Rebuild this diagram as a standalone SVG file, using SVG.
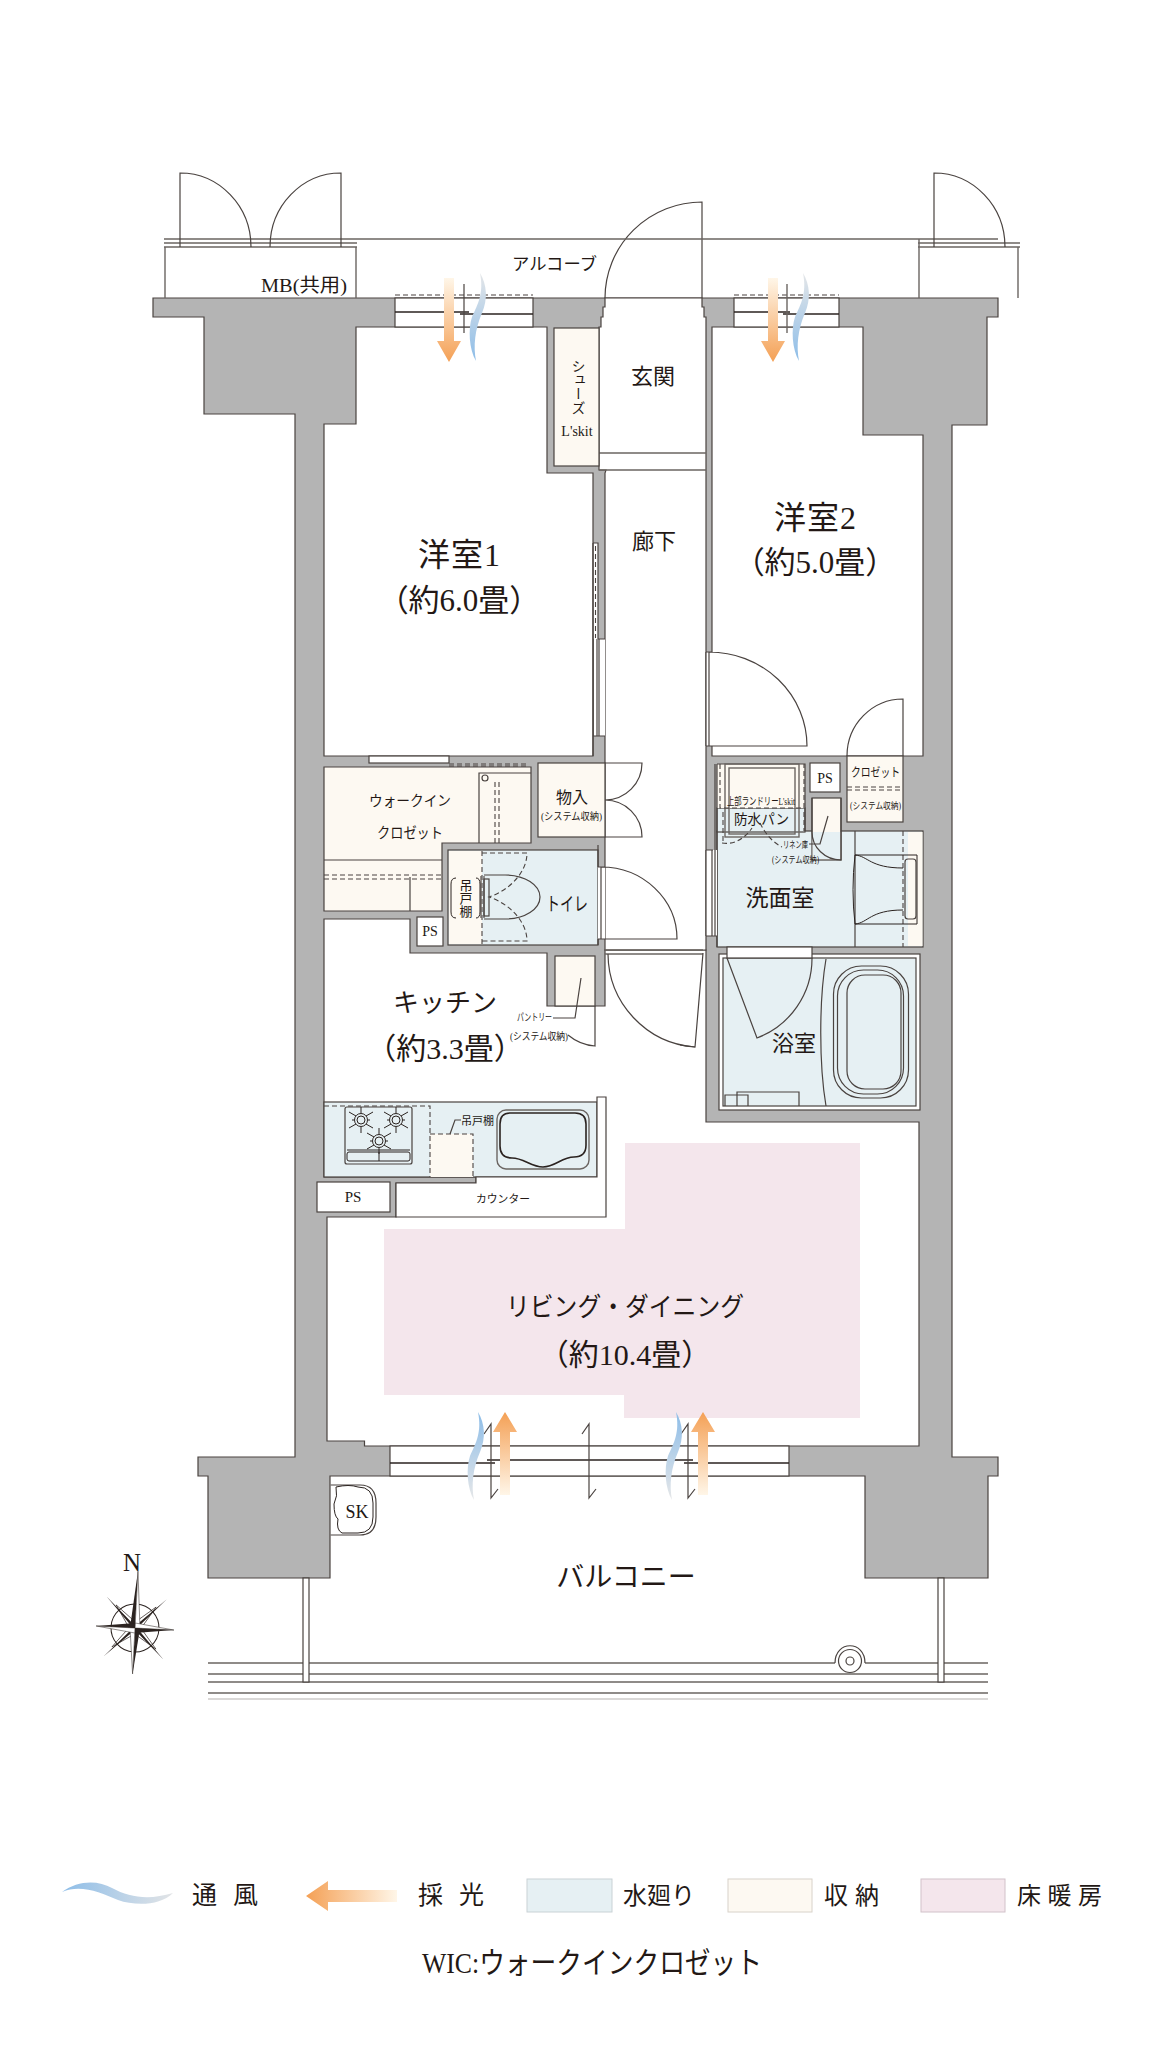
<svg xmlns="http://www.w3.org/2000/svg" xmlns:xlink="http://www.w3.org/1999/xlink" width="1160" height="2051" viewBox="0 0 1160 2051">
<style>
text{font-family:"Liberation Serif","Noto Sans CJK JP",serif;fill:#231815}
.m{text-anchor:middle}
.w{fill:#fff;stroke:#4a4340;stroke-width:1.2}
.g{fill:#b4b4b4;stroke:#4a4340;stroke-width:1.2}
.c{fill:#fdf9f2;stroke:#4a4340;stroke-width:1.2}
.b{fill:#e6f0f3;stroke:#4a4340;stroke-width:1.2}
.l{fill:none;stroke:#4a4340;stroke-width:1.2}
.t{fill:none;stroke:#6b6562;stroke-width:1.4}
.k{fill:none;stroke:#2b2320;stroke-width:1.6}
.h{fill:none;stroke:#2b2320;stroke-width:1}
.d{fill:none;stroke:#4a4340;stroke-width:1.1;stroke-dasharray:5 3}
.n{fill:#fff;stroke:none}
</style>
<defs>
<linearGradient id="wd" x1="0" y1="0" x2="0" y2="1"><stop offset="0" stop-color="#e4e6e8"/><stop offset="1" stop-color="#8dbde8"/></linearGradient>
<linearGradient id="wu" x1="0" y1="0" x2="0" y2="1"><stop offset="0" stop-color="#8dbde8"/><stop offset="1" stop-color="#e6e7e8"/></linearGradient>
<linearGradient id="wl" x1="0" y1="0" x2="1" y2="0"><stop offset="0" stop-color="#8dbde8"/><stop offset="1" stop-color="#e2e4e6"/></linearGradient>
<linearGradient id="ad" x1="0" y1="0" x2="0" y2="1"><stop offset="0" stop-color="#fff6e8"/><stop offset="1" stop-color="#f4a055"/></linearGradient>
<linearGradient id="au" x1="0" y1="1" x2="0" y2="0"><stop offset="0" stop-color="#fff6e8"/><stop offset="1" stop-color="#f4a055"/></linearGradient>
<linearGradient id="al" x1="1" y1="0" x2="0" y2="0"><stop offset="0" stop-color="#fff6e8"/><stop offset="1" stop-color="#f4a055"/></linearGradient>
<path id="wind" d="M0,0C7,12 8,26 2,40C-5,56 -7,73 -4,88C-11,76 -12,56 -8,44C-2,31 4,20 0,0Z"/>
<path id="arrowU" d="M0,0L12,20H5V83H-5V20H-12Z"/>
<path id="arrowD" d="M0,84L12,63H5V0H-5V63H-12Z"/>
<g id="burner" class="h"><circle r="6.5"/><circle r="4"/><path d="M0,-7V-13M0,7V13M-7,0H-9M7,0H9M-5,-4L-12,-8M5,-4L12,-8M-5,4L-12,8M5,4L12,8"/></g>
</defs>

<g id="walls">
<path class="g" d="M153,298H998V317H987V425H952V1457H998V1476H988V1578H865V1476H330V1578H208V1476H198V1457H295V414H204V317H153Z"/>
</g>

<g id="ldk">
<path class="w" d="M324,919H410V953H547V1006H605V950H706V1122H919V1446H364.500V1441H327V1217H396V1183H476V1177H324Z"/>
<path fill="#f4e6ec" d="M625,1143H860V1418H624V1395H384V1229H625Z"/>
<text class="m" x="625" y="1316" font-size="26" textLength="238" lengthAdjust="spacingAndGlyphs">リビング・ダイニング</text>
<text class="m" x="625" y="1365" font-size="30">（約10.4畳）</text>
</g>

<g id="kitchen">
<rect class="b" x="324" y="1102" width="273" height="75"/>
<path class="w" d="M597,1097H606V1217H396V1183H476V1177H597Z"/>
<rect x="430" y="1134" width="43" height="43" fill="#fdf9f2"/>
<path class="d" d="M324,1106H430V1177M430,1134H473V1177"/>
<rect class="l" x="345" y="1107" width="67" height="57" rx="2"/>
<path class="h" d="M347,1150H410"/>
<rect class="h" x="347" y="1152" width="63" height="9" rx="2"/>
<path class="h" d="M379,1152V1161"/>
<use xlink:href="#burner" x="361" y="1120"/>
<use xlink:href="#burner" x="396" y="1120"/>
<use xlink:href="#burner" x="379" y="1141"/>
<rect class="t" x="497" y="1110" width="92" height="59" rx="9" stroke-width="1"/>
<path class="k" d="M510,1113H575Q586,1113 586,1124V1145Q586,1157 574,1157C562,1157 555,1167 543,1167C531,1167 524,1158 512,1158Q500,1158 500,1146V1124Q500,1113 510,1113Z"/>
<path class="l" d="M450,1134L455,1120H461"/>
<text x="461" y="1125" font-size="11" textLength="33" lengthAdjust="spacingAndGlyphs">吊戸棚</text>
<text class="m" x="503" y="1203" font-size="11" textLength="54" lengthAdjust="spacingAndGlyphs">カウンター</text>
<text class="m" x="445" y="1012" font-size="26">キッチン</text>
<text class="m" x="445" y="1059" font-size="30">（約3.3畳）</text>
</g>

<g id="ps-kitchen">
<rect class="w" x="317" y="1182" width="73" height="30"/>
<text class="m" x="353" y="1202" font-size="15">PS</text>
</g>

<g id="pantry">
<rect class="c" x="555" y="956" width="40" height="50"/>
<path class="l" d="M595,1006V1046Q580,1045 568,1035"/>
<path class="l" d="M581,978L575,1018H553"/>
<text x="517" y="1021" font-size="10" textLength="35" lengthAdjust="spacingAndGlyphs">パントリー</text>
<text x="510" y="1040" font-size="10" textLength="58" lengthAdjust="spacingAndGlyphs">(システム収納)</text>
</g>

<g id="hall">
<path class="w" d="M605,298H702V307H704V317H706V950H605V473L606,470H599V327H601V317H603V307H605Z"/>
<path class="t" d="M599,453H706M599,470H706"/>
<text class="m" x="653" y="384" font-size="22">玄関</text>
<text class="m" x="654" y="549" font-size="22">廊下</text>
<path class="l" d="M605,298A97,96 0 0 1 702,202V298"/>
<rect class="n" x="593" y="639" width="12" height="97"/>
<path class="l" d="M593,639V736M597,639V736M599,639V736M598,639H605M593,736H605"/>
<rect class="n" x="593" y="543" width="5" height="96"/>
<path class="l" d="M593,543H598V639"/>
<path class="d" d="M595.500,546V638"/>
<path class="t" d="M605,950H703M605,954H703"/>
<path class="l" d="M608,954A94,94 0 0 0 695,1047L703,953"/>
<path class="l" d="M680,1045L695,1047"/>
</g>

<g id="shoes">
<rect class="c" x="554" y="328" width="45" height="138"/>
<text x="577" y="359" font-size="14" style="writing-mode:vertical-rl" textLength="56">シューズ</text>
<text class="m" x="577" y="436" font-size="14">L'skit</text>
</g>

<g id="room1">
<path class="w" d="M356,327H547V473H593V756H324V424H356Z"/>
<path class="l" d="M593,543V756"/>
<text class="m" x="459" y="566" font-size="32" textLength="82">洋室1</text>
<text class="m" x="459" y="611" font-size="31">（約6.0畳）</text>
</g>

<g id="room2">
<path class="w" d="M712,327H863V435H923V756H712Z"/>
<rect class="n" x="706" y="652" width="7" height="94"/>
<path class="l" d="M706,652H712M706,746H807A98,94 0 0 0 709,652M709,652V746M706,652V746"/>
<text class="m" x="815" y="529" font-size="32" textLength="82">洋室2</text>
<text class="m" x="815" y="573" font-size="31">（約5.0畳）</text>
</g>

<g id="wic">
<rect class="w" x="369" y="756" width="80" height="7"/>
<path class="d" d="M449,764H527M449,766H527"/>
<path class="c" d="M324,767H531V843H442V911H324Z"/>
<path class="l" d="M479,843V773H531M324,860H442M410,877V911"/>
<path class="d" d="M324,875H442M324,879H442M495,843V781M499,843V781"/>
<circle class="l" cx="485" cy="778" r="3"/>
<text x="369" y="806" font-size="14.500" textLength="82" lengthAdjust="spacingAndGlyphs">ウォークイン</text>
<text x="377" y="838" font-size="14.500" textLength="66" lengthAdjust="spacingAndGlyphs">クロゼット</text>
</g>

<g id="storage">
<rect class="c" x="538" y="763" width="67" height="74"/>
<path class="l" d="M605,763H642A37,37 0 0 1 605,800A37,37 0 0 1 642,837H605"/>
<text class="m" x="572" y="803" font-size="16">物入</text>
<text x="541" y="820" font-size="10.500" textLength="61" lengthAdjust="spacingAndGlyphs">(システム収納)</text>
</g>

<g id="toilet">
<rect class="b" x="448" y="850" width="150" height="95"/>
<rect x="449" y="851" width="33" height="93" fill="#fdf9f2"/>
<path class="d" d="M482,851V945M482,853H527C527,872 510,890 489,897C510,904 527,922 527,941H482"/>
<rect class="n" x="598" y="867" width="7" height="72"/>
<path class="l" d="M598,867V845M598,939V945M601,867V939M598,867H605M598,939H677A76,72 0 0 0 601,867"/>
<path class="t" d="M481,876V918M484,876V918"/>
<rect class="l" x="484" y="879" width="5" height="37"/>
<path class="l" d="M484,875H505C525,875 540,885 540,897C540,909 525,919 505,919H484"/>
<path class="h" d="M456,878Q451,878 451,884V912Q451,918 456,918M476,878Q480,878 480,884V912Q480,918 476,918"/>
<text x="465" y="879" font-size="13" style="writing-mode:vertical-rl">吊戸棚</text>
<text class="m" x="567" y="911" font-size="19" textLength="42" lengthAdjust="spacingAndGlyphs">トイレ</text>
</g>

<g id="ps-wc">
<rect class="w" x="417" y="917" width="26" height="29"/>
<text class="m" x="430" y="936" font-size="14">PS</text>
</g>

<g id="washroom">
<rect class="b" x="717" y="831" width="206" height="116"/>
<rect class="b" x="717" y="808" width="88" height="24" stroke="none"/>
<rect x="717" y="764" width="88" height="44" fill="#fdf9f2"/>
<path class="l" d="M717,764H805V831M717,764V947"/>
<rect x="908" y="832" width="14.500" height="114" fill="#fdf9f2"/>
<rect class="n" x="706" y="850" width="11" height="86"/>
<path class="l" d="M706,850H713M706,850V936M712,850V936M715,764V936M706,936H717"/>
<rect class="t" x="725" y="764" width="74" height="73"/>
<rect class="t" x="729" y="768" width="66" height="66" stroke-width="1"/>
<path class="d" d="M720,764V808H804V764M723,812V843M804,812V831"/>
<path class="d" d="M722,843C735,845 745,838 752,828M760,823C765,833 772,842 782,847"/>
<path class="l" d="M855,831V947"/>
<path class="d" d="M903,831V947"/>
<path class="h" stroke-width="0.800" d="M855,855H917V924H855Q851,890 855,855M855,855C868,856 870,868 903,868M855,924C868,923 870,910 903,910"/>
<rect class="l" x="905" y="859" width="11" height="60" rx="3"/>
<rect class="c" x="812" y="798" width="29" height="62"/>
<rect x="812.700" y="832" width="27.600" height="27" fill="#e6f0f3"/>
<path class="l" d="M841,798V860A29,28 0 0 1 812,832V798"/>
<path class="l" d="M828,816L820,844H809"/>
<text x="727" y="805" font-size="10.500" textLength="68" lengthAdjust="spacingAndGlyphs">上部ランドリーL'skit</text>
<text x="734" y="824" font-size="14" textLength="55" lengthAdjust="spacingAndGlyphs">防水パン</text>
<text x="783" y="848" font-size="9.500" textLength="25" lengthAdjust="spacingAndGlyphs">リネン庫</text>
<text x="772" y="863" font-size="9.500" textLength="47" lengthAdjust="spacingAndGlyphs">(システム収納)</text>
<text class="m" x="780" y="906" font-size="23">洗面室</text>
</g>

<g id="closet">
<rect class="c" x="847" y="756" width="56" height="66"/>
<path class="l" d="M847,756A56,57 0 0 1 903,699V756"/>
<path class="d" d="M847,787H903M847,790H903"/>
<text x="851" y="777" font-size="12.500" textLength="49" lengthAdjust="spacingAndGlyphs">クロゼット</text>
<text x="850" y="809" font-size="9.500" textLength="51" lengthAdjust="spacingAndGlyphs">(システム収納)</text>
</g>

<g id="ps-wash">
<rect class="w" x="810" y="763" width="30" height="29"/>
<text class="m" x="825" y="783" font-size="14">PS</text>
</g>

<g id="bath">
<rect class="w" x="719" y="954" width="201" height="156"/>
<rect class="b" x="723" y="958" width="193" height="148"/>
<rect class="w" x="727" y="947" width="85" height="11"/>
<path class="l" d="M727,958L757,1038A85,85 0 0 0 812,958"/>
<path class="l" d="M826,959C819,1000 819,1065 826,1106"/>
<rect class="l" x="833.500" y="966" width="75" height="132" rx="28"/>
<rect class="l" x="837.500" y="970" width="66" height="124" rx="26"/>
<rect class="l" x="847" y="975" width="54" height="114" rx="18"/>
<path class="l" d="M737,1106V1092H799V1106M725,1106V1095H748V1106"/>
<text class="m" x="794" y="1051" font-size="22">浴室</text>
</g>

<g id="alcove">
<path class="t" d="M164,239H998M164,243H357M164,247H357M918,243H1020M918,247H1020M165,247V298M356,247V298M919,239V298M1018,247V298"/>
<path class="l" d="M180,247V173A71,74 0 0 1 251,247M341,247V173A71,74 0 0 0 270,247M934,247V173A71,74 0 0 1 1005,247"/>
<text x="512" y="270" font-size="17" textLength="85" lengthAdjust="spacingAndGlyphs">アルコーブ</text>
<text x="261" y="292" font-size="19" textLength="86" lengthAdjust="spacingAndGlyphs">MB(共用)</text>
</g>

<g id="windows-top">
<rect class="w" x="395" y="298" width="138" height="29"/>
<path class="d" d="M395,295H533" stroke-dasharray="4 2.500"/>
<path class="k" d="M395,312H469M460,314H533"/>
<path class="l" d="M464,284V333"/>
<rect class="w" x="734" y="298" width="105" height="29"/>
<path class="d" d="M734,295H839" stroke-dasharray="4 2.500"/>
<path class="k" d="M734,312H790M783,314H839"/>
<path class="t" d="M787,284V333"/>
<use xlink:href="#arrowD" x="449" y="278" fill="url(#ad)"/>
<use xlink:href="#arrowD" x="773" y="278" fill="url(#ad)"/>
<use xlink:href="#wind" x="480" y="273" fill="url(#wd)"/>
<use xlink:href="#wind" x="803" y="273" fill="url(#wd)"/>
</g>

<g id="windows-balcony">
<rect class="w" x="390" y="1446" width="399" height="30"/>
<path class="k" d="M390,1463H495M487,1460H693M684,1463H789"/>
<path class="l" d="M484,1434L491,1424V1498L498,1489M582,1434L589,1424V1498L596,1489M681,1434L688,1424V1498L695,1489"/>
<use xlink:href="#arrowU" x="505" y="1412" fill="url(#au)"/>
<use xlink:href="#arrowU" x="703" y="1412" fill="url(#au)"/>
<use xlink:href="#wind" x="478" y="1412" fill="url(#wu)"/>
<use xlink:href="#wind" x="676" y="1412" fill="url(#wu)"/>
</g>

<g id="balcony">
<path class="l" d="M330.600,1485H360Q376,1485 376,1503V1517Q376,1535 360,1535H330.600" fill="#e6f0f3"/>
<path class="h" d="M336,1487Q338,1496 334,1504Q334,1516 338,1519Q336,1530 342,1533H358Q373,1533 373,1517V1503Q373,1487 358,1487Q349,1484 336,1487Z"/>
<text class="m" x="357" y="1518" font-size="18">SK</text>
<path class="t" d="M208,1663H835M865,1663H988M208,1674H988M208,1682H988M208,1693H988"/>
<path d="M208,1699H988" stroke="#b5b2b0" stroke-width="1.200"/>
<path class="l" d="M835,1663C835,1640 865,1640 865,1663"/>
<circle class="l" cx="850" cy="1661" r="11.500"/>
<circle class="l" cx="850" cy="1661" r="4"/>
<rect class="w" x="303" y="1578" width="6" height="104"/>
<rect class="w" x="938" y="1578" width="6" height="104"/>
<text class="m" x="626" y="1587" font-size="28">バルコニー</text>
</g>

<g id="compass">
<text class="m" x="132" y="1571" font-size="25">N</text>
<g transform="translate(135,1628) rotate(3)">
<circle r="24" fill="none" stroke="#2b2320" stroke-width="1"/>
<g fill="#2b2320">
<path d="M0,-2L-30,-30L-2,0L-30,30L0,2L30,30L2,0L30,-30Z"/>
<path d="M0,-6L-20,-22L-6,0L-22,20L0,6L22,20L6,0L20,-22Z" fill="none" stroke="#2b2320" stroke-width="0.700"/>
<path d="M0,-57L-5,0H0Z"/><path d="M0,-57L5,0H0Z" fill="#fff" stroke="#2b2320" stroke-width="0.500"/>
<path d="M0,46L5,0H0Z"/><path d="M0,46L-5,0H0Z" fill="#fff" stroke="#2b2320" stroke-width="0.500"/>
<path d="M39,0L0,-5V0Z" fill="#fff" stroke="#2b2320" stroke-width="0.500"/><path d="M39,0L0,5V0Z"/>
<path d="M-39,0L0,5V0Z" fill="#fff" stroke="#2b2320" stroke-width="0.500"/><path d="M-39,0L0,-5V0Z"/>
</g>
</g>
</g>

<g id="legend">
<path fill="url(#wl)" d="M62,1892C78,1880 98,1880 112,1888C130,1898 150,1900 173,1893C160,1906 135,1906 118,1900C100,1892 80,1884 62,1892Z"/>
<text x="192" y="1904" font-size="25" textLength="66">通風</text>
<path fill="url(#al)" d="M306,1896L328,1881V1890H397V1902H328V1911Z"/>
<text x="418" y="1904" font-size="25" textLength="66">採光</text>
<rect x="527" y="1879" width="85" height="33" fill="#e6f0f3" stroke="#c9d2d5"/>
<text x="623" y="1904" font-size="24">水廻り</text>
<rect x="728" y="1879" width="84" height="33" fill="#fdf9f2" stroke="#d8d2ca"/>
<text x="824" y="1904" font-size="24" textLength="55">収納</text>
<rect x="921" y="1879" width="84" height="33" fill="#f4e6ec" stroke="#d2c2ca"/>
<text x="1017" y="1904" font-size="24" textLength="85">床暖房</text>
<text x="422" y="1973" font-size="30" textLength="340" lengthAdjust="spacingAndGlyphs">WIC:ウォークインクロゼット</text>
</g>
</svg>
